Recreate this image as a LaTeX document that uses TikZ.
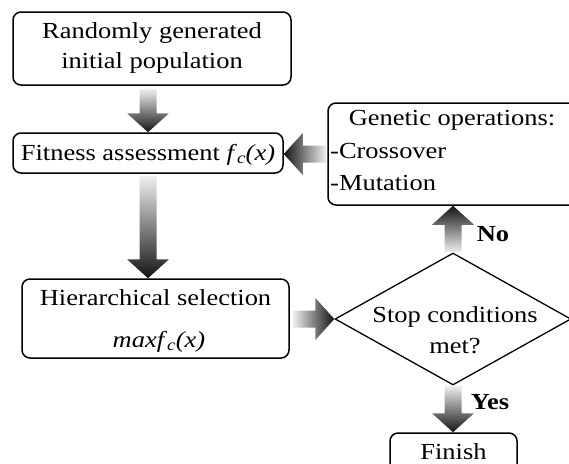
\documentclass[tikz,border=0pt]{standalone}
\usepackage{fontspec}
\setmainfont[FakeStretch=1.15]{Liberation Serif}
\usetikzlibrary{shapes.geometric,calc}

% Shaded block arrows: light at the tail, dark at the tip.
\tikzset{
  txt/.style={font=\fontsize{23}{30}\selectfont},
  box/.style={draw, line width=1.5pt, rounded corners=8pt, inner sep=0pt, align=center, txt},
  lbl/.style={inner sep=0pt, txt},
  yn/.style={inner sep=0pt, font=\fontsize{23}{30}\selectfont\bfseries},
  shadedown/.style={top color=gray!12, bottom color=black!92},
  shadeup/.style={top color=black!92, bottom color=gray!12},
  shadeleft/.style={left color=black!92, right color=gray!12},
  shaderight/.style={left color=gray!12, right color=black!92},
}
\newcommand\blockdown[2]{\shade[shadedown] let \p1=(#1), \p2=(#2) in
  (\x2-8.5pt,\y1) -- (\x2-8.5pt,\y2+19pt) -- (\x2-21pt,\y2+19pt) -- (\x2,\y2)
  -- (\x2+21pt,\y2+19pt) -- (\x2+8.5pt,\y2+19pt) -- (\x2+8.5pt,\y1) -- cycle;}
\newcommand\blockup[2]{\shade[shadeup] let \p1=(#1), \p2=(#2) in
  (\x2-8.5pt,\y1) -- (\x2-8.5pt,\y2-19pt) -- (\x2-21pt,\y2-19pt) -- (\x2,\y2)
  -- (\x2+21pt,\y2-19pt) -- (\x2+8.5pt,\y2-19pt) -- (\x2+8.5pt,\y1) -- cycle;}
\newcommand\blockleft[2]{\shade[shadeleft] let \p1=(#1), \p2=(#2) in
  (\x1,\y2-8.5pt) -- (\x2+19pt,\y2-8.5pt) -- (\x2+19pt,\y2-21pt) -- (\x2,\y2)
  -- (\x2+19pt,\y2+21pt) -- (\x2+19pt,\y2+8.5pt) -- (\x1,\y2+8.5pt) -- cycle;}
\newcommand\blockright[2]{\shade[shaderight] let \p1=(#1), \p2=(#2) in
  (\x1,\y2-8.5pt) -- (\x2-19pt,\y2-8.5pt) -- (\x2-19pt,\y2-21pt) -- (\x2,\y2)
  -- (\x2-19pt,\y2+21pt) -- (\x2-19pt,\y2+8.5pt) -- (\x1,\y2+8.5pt) -- cycle;}

\begin{document}
\begin{tikzpicture}[x=1pt, y=-1pt]
\useasboundingbox (0,0) rectangle (569,463);
\clip (0,0) rectangle (569,463);

% boxes
\node[box, minimum width=278, minimum height=73] (init) at (152,48.5) {};
\node[lbl, anchor=base] (init1) at (152,38) {Randomly generated};
\node[lbl, anchor=base] (init2) at (152,68) {initial population};
\node[box, minimum width=270, minimum height=40] (fit) at (148,153) {};
\node[lbl, anchor=base] (fittext) at (148,160)
  {Fitness assessment \textit{f}\textsubscript{\textit{c}}\textit{(x)}};
\node[box, minimum width=267, minimum height=79] (hier) at (155.5,318.5) {};
\node[lbl, anchor=base] (hier1) at (155.5,305) {Hierarchical selection};
\node[lbl, anchor=base] (hier2) at (159,347)
  {\textit{maxf}\textsubscript{\textit{c}}\textit{(x)}};
\node[box, minimum width=250, minimum height=102] (gen) at (453,154) {};
\node[lbl, anchor=base] (gentitle) at (452,125) {Genetic operations:};
\node[lbl, anchor=base west] (cross) at (330,158) {-Crossover};
\node[lbl, anchor=base west] (mut) at (330,190) {-Mutation};
\node[draw, diamond, line width=1.3pt, minimum width=236, minimum height=132, inner sep=0pt]
  (stop) at (453,319) {};
\node[lbl, anchor=base] (stop1) at (455,322) {Stop conditions};
\node[lbl, anchor=base] (stop2) at (455,353) {met?};
\node[box, minimum width=127, minimum height=42] (fin) at (453.5,454) {};
\node[lbl, anchor=base, text depth=0pt] (fintext) at (453.5,459.5) {Finish};

% connectors
\blockdown{$(init.south)+(0,3)$}{fit.north}
\blockdown{$(fit.south)+(0,2)$}{hier.north -| fit.north}
\blockleft{$(gen.west)+(-1,0)$}{fit.east |- gen.west}
\blockright{$(hier.east)+(3,0)$}{stop.west}
\blockup{stop.north}{gen.south -| stop.north}
\blockdown{stop.south}{fin.north -| stop.south}

% branch labels
\node[yn, anchor=base] (no) at (493,241) {No};
\node[yn, anchor=base] (yes) at (490,409) {Yes};
\end{tikzpicture}
\end{document}
